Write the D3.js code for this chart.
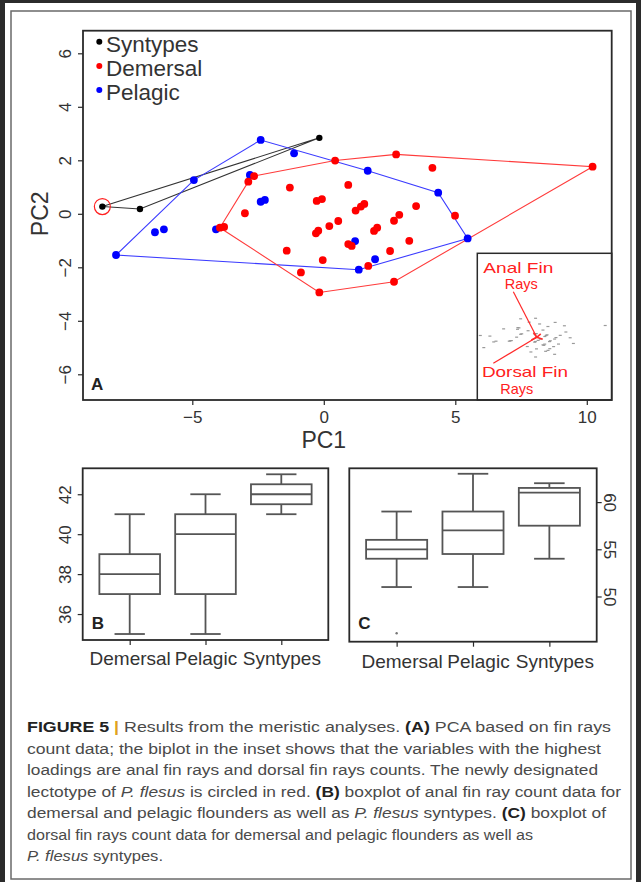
<!DOCTYPE html>
<html><head><meta charset="utf-8">
<script src="https://cdn.jsdelivr.net/npm/d3@7"></script>
<style>
body{margin:0;background:#2b2b2b}
svg{display:block}
text{font-family:"Liberation Sans",Arial,Helvetica,sans-serif}
</style></head>
<body><svg id="fig" width="641" height="882"></svg>
<script>
// ---------- DATA ----------
const groups = ["Syntypes", "Demersal", "Pelagic"];
const groupColors = ["#000000", "#ff0000", "#0000ff"];

const syntypesPC1 = [-8.42, -6.99, -0.17];
const syntypesPC2 = [0.27, 0.18, 2.84];
const lectotypeIndex = 0;

const demersalPC1 = [-2.65, -2.87, 0.43, 2.75, 4.13, 10.22, -1.29, 0.93, -3.00, -0.27, -0.07, 1.21, 1.41, 1.54, 3.51, 4.99, 2.67, 2.87, 0.55, 0.21, -0.30, -0.21, 1.91, 2.03, 0.93, 1.06, 3.25, -0.04, 2.52, 1.69, -0.87, -0.17, 2.67, -3.95, -3.79, -1.41];
const demersalPC2 = [1.41, 1.20, 1.99, 2.22, 1.72, 1.76, 0.98, 1.08, 0.02, 0.48, 0.55, 0.12, 0.27, 0.37, 0.29, -0.07, -0.26, -0.04, -0.27, -0.46, -0.73, -0.63, -0.64, -0.52, -1.13, -1.20, -1.01, -1.73, -1.39, -1.95, -2.19, -2.94, -2.54, -0.52, -0.49, -1.38];

const pelagicPC1 = [-2.40, -1.13, -4.94, -2.81, -2.40, -2.24, -7.90, -6.42, -6.08, -4.10, 1.19, 1.33, 1.95, 1.67, 4.35, 5.47];
const pelagicPC2 = [2.76, 2.26, 1.26, 1.45, 0.45, 0.52, -1.54, -0.69, -0.58, -0.58, -1.02, -2.09, -1.70, 1.61, 0.79, -0.92];

const pcaXTicks = [-5, 0, 5, 10];
const pcaYTicks = [-6, -4, -2, 0, 2, 4, 6];

// biplot loadings (inset units)
const loadingNames = [["Anal Fin", "Rays"], ["Dorsal Fin", "Rays"]];
const loadingPC1 = [-3.49, -6.48];
const loadingPC2 = [6.81, -3.88];
// minor loadings (short arrows clustered at the origin)
const minorLoadingPC1 = [0.6, -0.5, 0.9, -0.8];
const minorLoadingPC2 = [0.5, 0.7, -0.3, -0.4];

const boxCategories = ["Demersal", "Pelagic", "Syntypes"];
const analMin = [35, 35, 41];
const analQ1  = [37, 37, 41.5];
const analMed = [38, 40, 42];
const analQ3  = [39, 41, 42.5];
const analMax = [41, 42, 43];
const analTicks = [36, 38, 40, 42];

const dorsalMin = [51, 51, 54];
const dorsalQ1  = [54, 54.5, 57.5];
const dorsalMed = [55, 57, 61];
const dorsalQ3  = [56, 59, 61.5];
const dorsalMax = [59, 63, 62];
const dorsalOutlierCat = [1];
const dorsalOutlierVal = [46.1];
const dorsalTicks = [50, 55, 60];

const captionLines = [
  [["FIGURE 5", "b"], [" | ", "bar"], ["Results from the meristic analyses. ", ""], ["(A)", "b"], [" PCA based on fin rays", ""]],
  [["count data; the biplot in the inset shows that the variables with the highest", ""]],
  [["loadings are anal fin rays and dorsal fin rays counts. The newly designated", ""]],
  [["lectotype of ", ""], ["P. flesus", "i"], [" is circled in red. ", ""], ["(B)", "b"], [" boxplot of anal fin ray count data for", ""]],
  [["demersal and pelagic flounders as well as ", ""], ["P. flesus", "i"], [" syntypes. ", ""], ["(C)", "b"], [" boxplot of", ""]],
  [["dorsal fin rays count data for demersal and pelagic flounders as well as", ""]],
  [["P. flesus", "i"], [" syntypes.", ""]]
];
const captionWidths = [584, 574, 571, 594, 579, 506, 136];

// ---------- DRAW ----------
const svg = d3.select("#fig");
svg.append("rect").attr("width", 641).attr("height", 882).attr("fill", "#2b2b2b");
svg.append("rect").attr("x", 5).attr("y", 3).attr("width", 631).attr("height", 879).attr("fill", "#fff");
svg.append("rect").attr("x", 11).attr("y", 11).attr("width", 620).attr("height", 868)
  .attr("fill", "none").attr("stroke", "#6a6a6a").attr("stroke-width", 1.5);

const axisColor = "#2a2a2a";
const textColor = "#333";

// ===== Panel A =====
const A = {l: 83, r: 611.7, t: 30.7, b: 400};
const x = d3.scaleLinear().domain([-9.156, 10.947]).range([A.l, A.r]);
const y = d3.scaleLinear().domain([-6.961, 6.845]).range([A.b, A.t]);
const gA = svg.append("g");

const series = [
  {pts: d3.zip(syntypesPC1, syntypesPC2), color: groupColors[0], hull: "#333"},
  {pts: d3.zip(pelagicPC1, pelagicPC2), color: groupColors[2], hull: "#3b3bff"},
  {pts: d3.zip(demersalPC1, demersalPC2), color: groupColors[1], hull: "#ff3b3b"}
];
const lineGen = d3.line().x(d => x(d[0])).y(d => y(d[1]));
series.forEach(s => {
  const h = d3.polygonHull(s.pts);
  gA.append("path").attr("d", lineGen(h) + "Z").attr("fill", "none")
    .attr("stroke", s.hull).attr("stroke-width", 1.1);
});
[series[1], series[2], series[0]].forEach(s => {
  gA.selectAll(null).data(s.pts).enter().append("circle")
    .attr("cx", d => x(d[0])).attr("cy", d => y(d[1])).attr("r", s.color === "#000000" ? 3.2 : 3.9)
    .attr("fill", s.color);
});
gA.append("circle").attr("cx", x(syntypesPC1[lectotypeIndex])).attr("cy", y(syntypesPC2[lectotypeIndex]))
  .attr("r", 8).attr("fill", "none").attr("stroke", "#ff2020").attr("stroke-width", 1.2);

// inset
const I = {l: 477.3, r: 611.7, t: 253.3, b: 400};
gA.append("rect").attr("x", I.l).attr("y", I.t).attr("width", I.r - I.l).attr("height", I.b - I.t)
  .attr("fill", "#fff").attr("stroke", axisColor).attr("stroke-width", 1.5);
const xi = d3.scaleLinear().domain([-8.87, 11.19]).range([I.l, I.r]);
const yi = d3.scaleLinear().domain([-9.36, 12.54]).range([I.b, I.t]);
const allPts = [].concat(series[0].pts, series[1].pts, series[2].pts);
gA.selectAll(null).data(allPts).enter().append("line")
  .attr("x1", d => xi(d[0]) - 1.5).attr("x2", d => xi(d[0]) + 1.5)
  .attr("y1", d => yi(d[1])).attr("y2", d => yi(d[1]))
  .attr("stroke", "#9a9a9a").attr("stroke-width", 1.2);
loadingNames.forEach((nm, i) => {
  gA.append("line").attr("x1", xi(0)).attr("y1", yi(0))
    .attr("x2", xi(loadingPC1[i])).attr("y2", yi(loadingPC2[i]))
    .attr("stroke", "#ff2a2a").attr("stroke-width", 1.2);
});
minorLoadingPC1.forEach((v, i) => {
  gA.append("line").attr("x1", xi(0)).attr("y1", yi(0))
    .attr("x2", xi(v)).attr("y2", yi(minorLoadingPC2[i]))
    .attr("stroke", "#ff2a2a").attr("stroke-width", 1.6);
});
// dx1, dy1, dy2, dx2 relative to tip; text widths
const labOff = [[5, -18.5, -2.2, 8], [31.7, 13.8, 30.3, 23.4]];
const labW = [[70, 33], [86, 33]];
loadingNames.forEach((nm, i) => {
  const tx = xi(loadingPC1[i]), ty = yi(loadingPC2[i]);
  gA.append("text").attr("x", tx + labOff[i][0]).attr("y", ty + labOff[i][1]).attr("text-anchor", "middle")
    .attr("font-size", 14.5).attr("fill", "#ff2020")
    .attr("textLength", labW[i][0]).attr("lengthAdjust", "spacingAndGlyphs").text(nm[0]);
  gA.append("text").attr("x", tx + labOff[i][3]).attr("y", ty + labOff[i][2]).attr("text-anchor", "middle")
    .attr("font-size", 14.5).attr("fill", "#ff2020")
    .attr("textLength", labW[i][1]).attr("lengthAdjust", "spacingAndGlyphs").text(nm[1]);
});

// axes A
const xAxA = gA.append("g").attr("transform", `translate(0,${A.b})`)
  .call(d3.axisBottom(x).tickValues(pcaXTicks).tickSize(5).tickFormat(d3.format("d")));
xAxA.select(".domain").remove();
xAxA.selectAll("line").attr("stroke", axisColor).attr("stroke-width", 1.2);
xAxA.selectAll("text").attr("y", 23).attr("dy", null).attr("font-size", 17).attr("fill", textColor).style("font-family", null);
const yAxA = gA.append("g").attr("transform", `translate(${A.l},0)`)
  .call(d3.axisLeft(y).tickValues(pcaYTicks).tickSize(5).tickFormat(d3.format("d")));
yAxA.select(".domain").remove();
yAxA.selectAll("line").attr("stroke", axisColor).attr("stroke-width", 1.2);
yAxA.selectAll("text").attr("transform", "rotate(-90)").attr("x", 0).attr("y", -12).attr("dy", null)
  .style("text-anchor", "middle").attr("font-size", 17).attr("fill", textColor).style("font-family", null);
gA.append("rect").attr("x", A.l).attr("y", A.t).attr("width", A.r - A.l).attr("height", A.b - A.t)
  .attr("fill", "none").attr("stroke", axisColor).attr("stroke-width", 1.8);
gA.append("text").attr("x", (x(0))).attr("y", 448).attr("text-anchor", "middle").attr("font-size", 23).attr("fill", textColor).text("PC1");
gA.append("text").attr("transform", `translate(48,${y(0)}) rotate(-90)`).attr("text-anchor", "middle")
  .attr("font-size", 23).attr("fill", textColor).text("PC2");
gA.append("text").attr("x", 91).attr("y", 390).attr("font-size", 17).attr("font-weight", "bold").attr("fill", "#222").text("A");

// legend
groups.forEach((g, i) => {
  gA.append("circle").attr("cx", 99.3).attr("cy", 41.7 + i * 24.2).attr("r", 3).attr("fill", groupColors[i]);
  gA.append("text").attr("x", 106).attr("y", 52 + i * 24.2).attr("font-size", 22.5).attr("fill", textColor).text(g);
});

// ===== Boxplots =====
function boxPanel(P, dom, mins, q1, med, q3, maxs, ticks, side, letter, outC, outV) {
  const g = svg.append("g");
  const bx = d3.scaleLinear().domain([0.38, 3.62]).range([P.l, P.r]);
  const by = d3.scaleLinear().domain(dom).range([P.b, P.t]);
  const bw = (bx(1.4) - bx(1)), cw = (bx(1.2) - bx(1));
  const st = "#555", sw = 1.8;
  boxCategories.forEach((c, i) => {
    const cx = bx(i + 1);
    g.append("line").attr("x1", cx).attr("x2", cx).attr("y1", by(mins[i])).attr("y2", by(q1[i])).attr("stroke", st).attr("stroke-width", sw);
    g.append("line").attr("x1", cx).attr("x2", cx).attr("y1", by(q3[i])).attr("y2", by(maxs[i])).attr("stroke", st).attr("stroke-width", sw);
    [mins[i], maxs[i]].forEach(v => g.append("line").attr("x1", cx - cw).attr("x2", cx + cw)
      .attr("y1", by(v)).attr("y2", by(v)).attr("stroke", st).attr("stroke-width", sw));
    g.append("rect").attr("x", cx - bw).attr("width", 2 * bw).attr("y", by(q3[i])).attr("height", by(q1[i]) - by(q3[i]))
      .attr("fill", "#fff").attr("stroke", st).attr("stroke-width", sw);
    g.append("line").attr("x1", cx - bw).attr("x2", cx + bw).attr("y1", by(med[i])).attr("y2", by(med[i]))
      .attr("stroke", st).attr("stroke-width", sw);
  });
  if (outC) outC.forEach((c, j) => g.append("circle").attr("cx", bx(c)).attr("cy", by(outV[j])).attr("r", 1.2).attr("fill", "#777"));
  const xa = g.append("g").attr("transform", `translate(0,${P.b})`)
    .call(d3.axisBottom(bx).tickValues([1, 2, 3]).tickSize(5).tickFormat(d => boxCategories[d - 1]));
  xa.select(".domain").remove();
  xa.selectAll("line").attr("stroke", axisColor).attr("stroke-width", 1.2);
  xa.selectAll("text").attr("y", P.lab).attr("x", P.labDx).attr("dy", null).attr("font-size", 19).attr("fill", textColor).style("font-family", null);
  const ya = g.append("g").attr("transform", `translate(${side === "left" ? P.l : P.r},0)`)
    .call((side === "left" ? d3.axisLeft(by) : d3.axisRight(by)).tickValues(ticks).tickSize(5));
  ya.select(".domain").remove();
  ya.selectAll("line").attr("stroke", axisColor).attr("stroke-width", 1.2);
  ya.selectAll("text").attr("transform", side === "left" ? "rotate(-90)" : "rotate(90)")
    .attr("x", 0).attr("y", side === "left" ? -12 : -7).attr("dy", null)
    .style("text-anchor", "middle").attr("font-size", 17).attr("fill", textColor).style("font-family", null);
  g.append("rect").attr("x", P.l).attr("y", P.t).attr("width", P.r - P.l).attr("height", P.b - P.t)
    .attr("fill", "none").attr("stroke", axisColor).attr("stroke-width", 1.8);
  g.append("text").attr("x", P.l + 9).attr("y", 629).attr("font-size", 17).attr("font-weight", "bold").attr("fill", "#222").text(letter);
}
boxPanel({l: 82.7, r: 328.3, t: 468.3, b: 640, lab: 25, labDx: 0}, [34.70, 43.30], analMin, analQ1, analMed, analQ3, analMax, analTicks, "left", "B");
boxPanel({l: 349.3, r: 596.7, t: 468.3, b: 641.7, lab: 26, labDx: 5}, [45.21, 63.58], dorsalMin, dorsalQ1, dorsalMed, dorsalQ3, dorsalMax, dorsalTicks, "right", "C", dorsalOutlierCat, dorsalOutlierVal);

// ===== Caption =====
const capY0 = 732, capDy = 21.5;
captionLines.forEach((segs, i) => {
  const t = svg.append("text").attr("x", 27).attr("y", capY0 + i * capDy).attr("font-size", 15.5).attr("fill", "#4a4a4a")
    .attr("textLength", captionWidths[i]).attr("lengthAdjust", "spacingAndGlyphs");
  segs.forEach(([s, st]) => {
    const ts = t.append("tspan").text(s);
    if (st === "b") ts.attr("font-weight", "bold").attr("fill", "#222");
    if (st === "bar") ts.attr("font-weight", "bold").attr("fill", "#e0a020");
    if (st === "i") ts.attr("font-style", "italic");
  });
});
</script></body></html>
